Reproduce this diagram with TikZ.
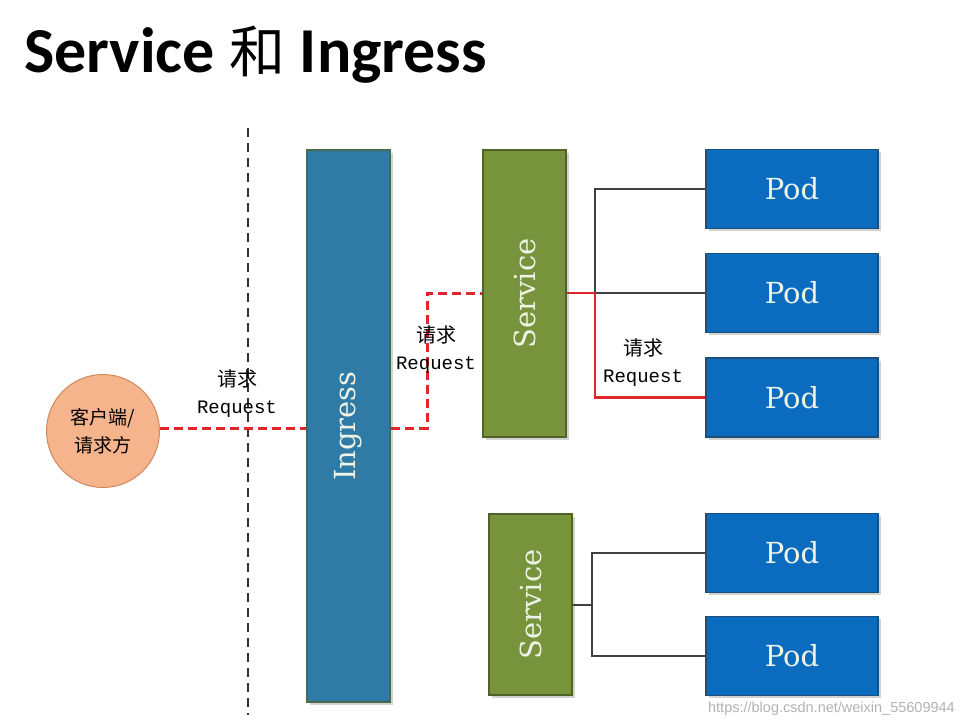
\documentclass[tikz,border=0pt]{standalone}
\usepackage{fontspec}
\setmainfont{DejaVu Serif}
\newfontfamily\cjk{Noto Sans CJK SC}
\newfontfamily\titlefont{Carlito}
\newfontfamily\reqfont{Liberation Mono}
\newfontfamily\boxfont{DejaVu Serif}
\newfontfamily\wmfont{Liberation Sans}
\usetikzlibrary{shadows}
\definecolor{ingfill}{HTML}{2F7BA6}
\definecolor{ingdraw}{HTML}{4A6A50}
\definecolor{svcfill}{HTML}{77933C}
\definecolor{svcdraw}{HTML}{4F6228}
\definecolor{podfill}{HTML}{0B6CBF}
\definecolor{poddraw}{HTML}{1F4E79}
\definecolor{cirfill}{HTML}{F5B48C}
\definecolor{cirdraw}{HTML}{D08A5C}
\definecolor{reqred}{HTML}{E0262A}
\definecolor{linkgray}{HTML}{404040}
\definecolor{boxtext}{HTML}{EEF3E6}
\tikzset{
  boxbase/.style={draw, line width=1.2pt, inner sep=0pt, text=boxtext,
    font=\boxfont\fontsize{29}{33}\selectfont,
    drop shadow={opacity=0.35, shadow xshift=2.5pt, shadow yshift=-2.5pt}},
  ingbox/.style={boxbase, fill=ingfill, draw=ingdraw},
  svcbox/.style={boxbase, fill=svcfill, draw=svcdraw},
  podbox/.style={boxbase, fill=podfill, draw=poddraw, minimum width=172pt, minimum height=79pt},
  reqdash/.style={draw=reqred, line width=3pt, dash pattern=on 9pt off 5pt},
  reqline/.style={draw=reqred, line width=2.5pt},
  link/.style={draw=linkgray, line width=1.5pt},
  reqlabel/.style={align=center, inner sep=0pt, font=\fontsize{19}{27}\selectfont},
}
\newcommand{\reqtext}{{\cjk\fontsize{20}{27}\selectfont 请求}\\{\reqfont Request}}
\begin{document}
\begin{tikzpicture}[x=1pt,y=-1pt]
\useasboundingbox[fill=white] (0,0) rectangle (963,723);
% title
\node[anchor=base west, inner sep=0pt] (title) at (24,72)
  {\titlefont\bfseries\fontsize{64}{70}\selectfont Service {\cjk\mdseries\fontsize{56}{64}\selectfont 和} Ingress};
% dashed boundary
\coordinate (bt) at (248,128);
\coordinate (bb) at (248,715);
\draw[black!80, line width=1.2pt, dash pattern=on 9pt off 6pt] (bt) -- (bb);
% client
\node[circle, fill=cirfill, draw=cirdraw, line width=1pt, minimum size=113pt, inner sep=0pt,
  align=center, font=\cjk\fontsize{19}{28}\selectfont] (client) at (103,431) {客户端/\\请求方};
% ingress
\node[ingbox, minimum width=83pt, minimum height=552pt] (ing) at (348.5,426) {\rotatebox{90}{Ingress}};
% services
\node[svcbox, minimum width=83pt, minimum height=287pt] (svc1) at (524.5,293.5) {\rotatebox{90}{Service}};
\node[svcbox, minimum width=83pt, minimum height=181pt] (svc2) at (530.5,604.5) {\rotatebox{90}{Service}};
% pods
\node[podbox] (pod1) at (792,189) {Pod};
\node[podbox] (pod2) at (792,293) {Pod};
\node[podbox] (pod3) at (792,397.5) {Pod};
\node[podbox] (pod4) at (792,553) {Pod};
\node[podbox] (pod5) at (792,656) {Pod};
% request paths
\draw[reqdash] (client.east |- 0,428) -- (ing.west |- 0,428);
\coordinate (r1) at (427,428);
\coordinate (r2) at (427,293);
\draw[reqdash] (ing.east |- r1) -- (r1) -- (r2) -- (svc1.west |- r2);
\coordinate (j1) at (595,293);
\draw[link] (pod1.west) -| (j1);
\draw[link] (j1) -- (pod2.west);
\draw[reqline] (svc1.east |- j1) -- (j1) |- (pod3.west);
\coordinate (j2) at (592,605);
\draw[link] (svc2.east |- j2) -- (j2);
\draw[link] (pod4.west) -| (j2) |- (pod5.west);
% labels
\node[reqlabel] (lab1) at (237,394) {\reqtext};
\node[reqlabel] (lab2) at (436,350) {\reqtext};
\node[reqlabel] (lab3) at (643,363) {\reqtext};
% watermark
\node[anchor=base east, inner sep=0pt, text=black!30, font=\wmfont\fontsize{14.5}{16}\selectfont] (wm) at (955,712)
  {https://blog.csdn.net/weixin\_55609944};
\end{tikzpicture}
\end{document}
